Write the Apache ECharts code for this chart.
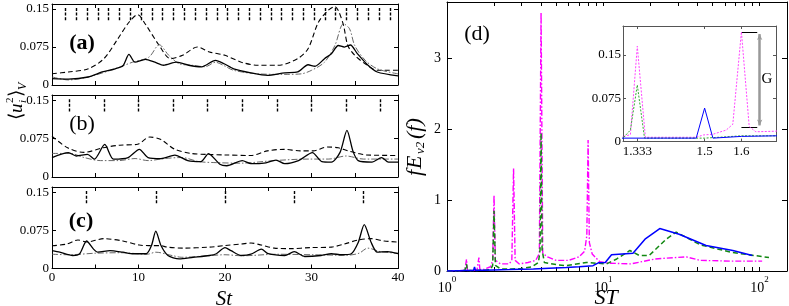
<!DOCTYPE html>
<html><head><meta charset="utf-8">
<script src="https://cdn.jsdelivr.net/npm/echarts@6/dist/echarts.min.js"></script>
<style>html,body{margin:0;padding:0;background:#fff}#c{width:789px;height:306px}</style>
</head><body><div id="c"></div>
<script>
// ---------- data: left panels (St vs <u_i^2>_V) ----------
const aSolidSt = [0,1.9,4.2,5.8,7.3,8.2,8.9,9.6,10.8,11.9,12.9,14.4,15.8,17.3,18.9,19.9,21,23,24.9,26.9,28.4,29.6,30.4,31.5,32.3,33.1,33.8,34.5,35.3,36.5,37.6,40];
const aSolidV  = [0.0125,0.0116,0.0158,0.0257,0.032,0.038,0.0605,0.045,0.0507,0.045,0.039,0.045,0.039,0.036,0.0487,0.042,0.032,0.024,0.019,0.024,0.0257,0.040,0.037,0.052,0.0618,0.078,0.075,0.079,0.062,0.0395,0.0257,0.018];
const aDashSt  = [0,1.9,4.2,6,7.6,8.9,9.9,10.8,12.4,13.7,15.1,16.8,18.2,20,21.9,23.8,26.1,28.4,29.6,30.8,31.9,32.7,33.1,33.7,34.2,35,36.2,37.6,40];
const aDashV   = [0.0223,0.0257,0.032,0.052,0.091,0.124,0.139,0.12,0.078,0.052,0.0586,0.075,0.0652,0.0586,0.045,0.039,0.039,0.052,0.0717,0.124,0.147,0.155,0.147,0.118,0.078,0.0586,0.042,0.029,0.029];
const aDotSt   = [0,1.9,4.2,7.3,9.3,11.2,12.4,13.5,14.7,16.2,17.7,18.9,19.8,21,23.8,26.9,28.8,30,31.5,32.7,33.7,34.4,35,36.2,37.6,40];
const aDotV    = [0.016,0.01,0.016,0.032,0.045,0.055,0.0795,0.0586,0.042,0.039,0.036,0.045,0.039,0.029,0.022,0.021,0.022,0.029,0.045,0.078,0.121,0.111,0.078,0.049,0.032,0.022];

const bSolidSt = [0,1.9,2.8,4.1,4.9,6.1,7.1,8.8,10.1,11.1,12.6,14.2,15.7,17.2,18.1,19.4,20.2,22,23,24.5,25.9,26.9,28.5,30.1,31.2,32.3,33.3,34.1,34.8,35.4,37,38.1,38.9,40];
const bSolidV  = [0.038,0.0477,0.041,0.044,0.035,0.0636,0.035,0.038,0.054,0.038,0.036,0.0426,0.032,0.030,0.0458,0.025,0.022,0.032,0.026,0.027,0.033,0.026,0.032,0.0477,0.03,0.029,0.048,0.091,0.05,0.032,0.029,0.038,0.029,0.029];
const bDashSt  = [0,1.8,3.7,5.9,7.8,9.9,11.3,12.6,14.2,16.1,18,20,23,24.9,26.8,28.7,30.2,31.8,33.1,34.2,35.4,36.3,40];
const bDashV   = [0.0795,0.057,0.048,0.057,0.062,0.064,0.078,0.073,0.054,0.046,0.044,0.043,0.042,0.051,0.054,0.051,0.051,0.0585,0.057,0.051,0.046,0.043,0.042];
const bDotSt   = [0,2.1,3.7,5.6,7.7,9.6,11.1,13,15,17,19,21.8,25.7,29.6,32,34,36,40];
const bDotV    = [0.046,0.046,0.038,0.032,0.032,0.036,0.032,0.036,0.038,0.03,0.028,0.027,0.032,0.035,0.035,0.041,0.035,0.035];

const cSolidSt = [0,0.9,2.4,3.2,4,4.8,5.3,6.7,8.2,9.4,10.9,11.5,12,12.6,13.4,14.7,16.3,18.2,19,20,20.7,21.9,23,24.2,25,26.9,28,29.2,31.1,32.3,33.5,34.6,35.4,36.1,36.9,37.6,38.8,40];
const cSolidV  = [0.035,0.032,0.0255,0.029,0.054,0.038,0.032,0.035,0.032,0.029,0.029,0.045,0.0734,0.045,0.0255,0.019,0.022,0.0255,0.029,0.041,0.035,0.0255,0.028,0.038,0.029,0.0255,0.033,0.0236,0.0255,0.029,0.027,0.029,0.051,0.086,0.051,0.032,0.033,0.029];
const cDashSt  = [0,1.7,3,4,6,8.2,10.1,11.2,12.5,13.3,15.2,18.2,20,21.9,23,24.2,25.7,27.6,29.9,32.3,33.8,35.4,36.9,38.4,40];
const cDashV   = [0.0446,0.048,0.056,0.052,0.0586,0.054,0.046,0.045,0.045,0.042,0.04,0.042,0.045,0.048,0.05,0.046,0.04,0.039,0.041,0.042,0.048,0.056,0.0586,0.054,0.052];
const cDotSt   = [0,2,5,8,11,12,14,15,18,20,22,26,30,34,35.5,36.5,38,40];
const cDotV    = [0.028,0.027,0.03,0.031,0.028,0.032,0.025,0.022,0.025,0.027,0.025,0.028,0.027,0.026,0.03,0.04,0.033,0.03];

// vertical marker positions (St) in each panel
const marksA = [1.55,2.8,4.05,5.3,6.55,7.8,9.05,10.3,11.55,12.8,14.05,15.3,16.55,17.8,19.05,20.3,21.55,22.8,24.05,25.3,26.55,27.8,29.05,30.3,31.55,32.8,34.05,35.3,36.55,37.8,39.05];
const marksB = [2,6,10,14,18,22,26,30,34,38];
const marksC = [4,12,20,28,36];
const markSpan = [0.128, 0.152];

// ---------- data: spectrum panel (d) ----------
const dBlueF  = [1.0,1.2,1.3,1.4,1.478,1.5,1.522,1.6,1.7,2.0,2.5,3.0,3.57,4.5,5.8,7.0,8.6,9.3,10.3,11.3,15.5,18.5,23,30.6,45.5,67.5,90];
const dBlueV  = [0.0,0.004,0.006,0.006,0.006,0.058,0.006,0.009,0.01,0.015,0.02,0.025,0.03,0.04,0.05,0.06,0.075,0.115,0.12,0.23,0.25,0.45,0.60,0.52,0.36,0.29,0.22];
const dGreenF = [1.0,1.2,1.3,1.317,1.333,1.35,1.4,1.5,1.55,1.6,1.7,1.9,1.96,2.0,2.04,2.2,2.6,3.0,3.5,3.85,3.94,4.0,4.06,4.2,5.0,5.8,7.8,10.5,12.2,14.8,17,19.7,25.3,29.3,41.7,67.5,115];
const dGreenV = [0.0,0.004,0.006,0.02,0.098,0.006,0.006,0.006,0.008,0.01,0.01,0.02,0.08,0.85,0.08,0.03,0.03,0.035,0.06,0.12,0.3,1.95,0.3,0.12,0.09,0.075,0.12,0.1,0.17,0.29,0.22,0.22,0.45,0.55,0.37,0.26,0.19];
const dMagF   = [1.0,1.2,1.3,1.317,1.333,1.352,1.4,1.478,1.497,1.522,1.558,1.576,1.6,1.622,1.641,1.7,1.9,1.96,2.0,2.04,2.2,2.5,2.6,2.667,2.73,2.9,3.3,3.7,3.9,4.0,4.1,4.4,5.0,6.0,7.0,7.6,7.85,8.0,8.15,8.5,9.5,11,15,21.5,34,41.7,65,104];
const dMagV   = [0.0,0.004,0.0087,0.012,0.165,0.0075,0.0075,0.0075,0.0115,0.0127,0.02,0.03,0.19,0.026,0.017,0.018,0.06,0.15,1.07,0.15,0.1,0.1,0.15,1.45,0.15,0.1,0.12,0.15,0.25,3.65,0.25,0.2,0.15,0.15,0.2,0.28,0.5,1.85,0.4,0.24,0.13,0.11,0.1,0.17,0.2,0.15,0.14,0.14];

// tick labels
const leftYTicks = [0, 0.075, 0.15];
const leftYLabels = ['0', '0.075', '0.15'];
const dXLabelValues = [1, 10, 100];
const dXMinorTicks = [1,2,3,4,5,6,7,8,9,10,20,30,40,50,60,70,80,90,100];
const insetXTicks = [1.333, 1.5, 1.6];
const insetXLabels = ['1.333', '1.5', '1.6'];
const insetYTicks = [0, 0.075, 0.15];
const insetYLabels = ['0', '0.075', '0.15'];
// G annotation (inset coordinates)
const gF = [1.6, 1.645, 1.652];
const gV = [0.19, 0.025];

// ---------- build ----------
const FONT = '"Liberation Serif","Times New Roman",serif';
const zip = (xs, ys) => xs.map((x, i) => [x, ys[i]]);
const lab = (ticks, labels) => v => { for (let i = 0; i < ticks.length; i++) if (Math.abs(v - ticks[i]) < 1e-6) return labels[i]; return ''; };

const grids = [
  {left:52, top:4, width:346, height:81},
  {left:52, top:95, width:346, height:82},
  {left:52, top:187, width:346, height:81.5},
  {left:447, top:2, width:340, height:269},
  {left:623, top:26, width:153, height:115.6, show:true, backgroundColor:'#fff', borderWidth:0, z:5}
].map(g => Object.assign({outerBoundsMode:'none', containLabel:false}, g));

const axLine = c => ({show:true, onZero:false, lineStyle:{color:c||'#000', width:1}});
const labStyle = {fontFamily:FONT, fontSize:13, color:'#000'};

const xAxes = [], yAxes = [];
for (let g = 0; g < 3; g++) {
  ['bottom','top'].forEach(pos => xAxes.push({
    type:'value', gridIndex:g, position:pos, min:0, max:40, interval:5,
    axisLine:axLine(), axisTick:{show:true, inside:true, length:4, lineStyle:{color:'#000'}},
    axisLabel:Object.assign({show: g===2 && pos==='bottom', margin:3, formatter: v => (v % 10 === 0 ? String(v) : '')}, labStyle),
    splitLine:{show:false}
  }));
  ['left','right'].forEach(pos => yAxes.push({
    type:'value', gridIndex:g, position:pos, min:0, max:0.16, interval:0.075,
    axisLine:axLine(), axisTick:{show:true, inside:true, length:4, lineStyle:{color:'#000'}},
    axisLabel:Object.assign({show: pos==='left', margin:3, showMaxLabel:false, formatter: lab(leftYTicks, leftYLabels)}, labStyle),
    splitLine:{show:false}
  }));
}
// panel d
const supRich = {b:{fontFamily:FONT, fontSize:14, color:'#000', lineHeight:20, verticalAlign:'bottom'},
                 s:{fontFamily:FONT, fontSize:9, color:'#000', lineHeight:10, verticalAlign:'top'}};
['bottom','top'].forEach(pos => xAxes.push({
  type:'log', logBase:10, gridIndex:3, position:pos, min:1, max:150,
  axisLine:axLine(), axisTick:{show:true, inside:true, length:4, customValues:dXMinorTicks, lineStyle:{color:'#000'}},
  axisLabel:{show: pos==='bottom', margin:4, customValues:dXLabelValues,
    formatter: v => '{b|10}{s|' + Math.round(Math.log10(v)) + '}', rich:supRich},
  splitLine:{show:false}, minorTick:{show:false}
}));
['left','right'].forEach(pos => yAxes.push({
  type:'value', gridIndex:3, position:pos, min:0, max:3.8, interval:1,
  axisLine:axLine(), axisTick:{show:true, inside:true, length:5, lineStyle:{color:'#000'}},
  axisLabel:Object.assign({show: pos==='left', margin:6, showMaxLabel:false, fontSize:14}, {fontFamily:FONT, color:'#000'}),
  splitLine:{show:false}
}));
// inset
['bottom','top'].forEach(pos => xAxes.push({
  type:'log', logBase:10, gridIndex:4, position:pos, min:1.3, max:1.7,
  axisLine:axLine('#555'), axisTick:{show:true, inside:true, length:3, customValues:insetXTicks, lineStyle:{color:'#555'}},
  axisLabel:Object.assign({show: pos==='bottom', margin:3, customValues:insetXTicks, formatter: lab(insetXTicks, insetXLabels)}, labStyle),
  splitLine:{show:false}, z:6
}));
['left','right'].forEach(pos => yAxes.push({
  type:'value', gridIndex:4, position:pos, min:0, max:0.2, interval:0.075,
  axisLine:axLine('#555'), axisTick:{show:true, inside:true, length:3, lineStyle:{color:'#555'}},
  axisLabel:Object.assign({show: pos==='left', margin:2, showMaxLabel:false, formatter: lab(insetYTicks, insetYLabels)}, labStyle),
  splitLine:{show:false}, z:6
}));

const SOLID = 'solid', DASH = [5,3], DASHDOT = [6,2,1.5,2];
function line(data, xi, yi, color, width, type, smooth, extra) {
  return Object.assign({type:'line', xAxisIndex:xi, yAxisIndex:yi, data:data, showSymbol:false, symbol:'none',
    smooth:smooth, animation:false, silent:true,
    lineStyle:{color:color, width:width, type:type}}, extra || {});
}
function markers(pos) {
  return {markLine:{silent:true, animation:false, symbol:['none','none'], label:{show:false},
    lineStyle:{color:'#000', width:1.4, type:[3,1.6]},
    data: pos.map(p => [{coord:[p, markSpan[0]]}, {coord:[p, markSpan[1]]}])}};
}

const series = [
  line(zip(aDashSt, aDashV), 0, 0, '#000', 1.1, DASH, 0.3),
  line(zip(aDotSt, aDotV), 0, 0, '#555', 0.9, DASHDOT, 0.3),
  line(zip(aSolidSt, aSolidV), 0, 0, '#000', 1.3, SOLID, 0.25, markers(marksA)),
  line(zip(bDashSt, bDashV), 2, 2, '#000', 1.1, DASH, 0.3),
  line(zip(bDotSt, bDotV), 2, 2, '#555', 0.9, DASHDOT, 0.3),
  line(zip(bSolidSt, bSolidV), 2, 2, '#000', 1.3, SOLID, 0.25, markers(marksB)),
  line(zip(cDashSt, cDashV), 4, 4, '#000', 1.1, DASH, 0.3),
  line(zip(cDotSt, cDotV), 4, 4, '#555', 0.9, DASHDOT, 0.3),
  line(zip(cSolidSt, cSolidV), 4, 4, '#000', 1.3, SOLID, 0.25, markers(marksC)),
  // main spectrum
  line(zip(dMagF, dMagV), 6, 6, '#ff00ff', 1.4, DASHDOT, false),
  line(zip(dGreenF, dGreenV), 6, 6, '#118811', 1.5, DASH, false),
  line(zip(dBlueF, dBlueV), 6, 6, '#0000ff', 1.5, SOLID, false),
  // inset
  line(zip(dMagF, dMagV), 8, 8, '#ff44ff', 1, [2,1.5], false, {z:7, markLine:{silent:true, animation:false,
    symbol:['none','none'], label:{show:false}, lineStyle:{color:'#000', width:1, type:'solid'},
    data:[
      [{coord:[gF[0], gV[0]]}, {coord:[gF[1], gV[0]]}],
      [{coord:[gF[0], gV[1]]}, {coord:[gF[1], gV[1]]}],
      [{coord:[gF[2], gV[0]-0.004], symbol:'arrow', symbolSize:[4,6], lineStyle:{color:'#999', width:2.5, type:'solid'}},
       {coord:[gF[2], gV[1]+0.003], symbol:'arrow', symbolSize:[4,6]}]
    ]}}),
  line(zip(dGreenF, dGreenV), 8, 8, '#33aa33', 1, [2,1.5], false, {z:7}),
  line(zip(dBlueF, dBlueV), 8, 8, '#0000ff', 1, SOLID, false, {z:7})
];

function txt(text, x, y, font, extra) {
  return Object.assign({type:'text', x:x, y:y, silent:true, z:20,
    style:{text:text, font:font, fill:'#000', align:'center', verticalAlign:'middle'}}, extra || {});
}
const I = s => 'italic ' + s + 'px ' + FONT;
const N = s => s + 'px ' + FONT;
const graphic = [
  txt('(a)', 82, 43, 'bold 22px ' + FONT),
  txt('(b)', 82, 124, N(22)),
  txt('(c)', 81, 221, 'bold 22px ' + FONT),
  txt('(d)', 477, 34, N(22)),
  txt('G', 767, 79, N(15)),
  txt('St', 224, 299, I(21)),
  txt('ST', 606, 298, I(22)),
  {type:'group', x:17, y:120, rotation:Math.PI/2, silent:true, z:20, children:[
    {type:'text', style:{text:'\u27E8', x:0, y:0, font:N(19), fill:'#000', verticalAlign:'middle'}},
    {type:'text', style:{text:'u', x:7, y:0, font:I(19), fill:'#000', verticalAlign:'middle'}},
    {type:'text', style:{text:'2', x:17, y:-7, font:N(11), fill:'#000', verticalAlign:'middle'}},
    {type:'text', style:{text:'i', x:17, y:6, font:I(11), fill:'#000', verticalAlign:'middle'}},
    {type:'text', style:{text:'\u27E9', x:23, y:0, font:N(19), fill:'#000', verticalAlign:'middle'}},
    {type:'text', style:{text:'V', x:30, y:6, font:I(12), fill:'#000', verticalAlign:'middle'}}
  ]},
  {type:'group', x:415, y:176, rotation:Math.PI/2, silent:true, z:20, children:[
    {type:'text', style:{text:'f', x:0, y:0, font:I(22), fill:'#000', verticalAlign:'middle'}},
    {type:'text', style:{text:'E', x:7, y:0, font:I(22), fill:'#000', verticalAlign:'middle'}},
    {type:'text', style:{text:'v2', x:22, y:6, font:I(13), fill:'#000', verticalAlign:'middle'}},
    {type:'text', style:{text:'(f)', x:37, y:0, font:I(22), fill:'#000', verticalAlign:'middle'}}
  ]}
];

const chart = echarts.init(document.getElementById('c'), null, {renderer:'canvas'});
chart.setOption({
  animation:false, backgroundColor:'#fff',
  textStyle:{fontFamily:FONT},
  grid:grids, xAxis:xAxes, yAxis:yAxes, series:series, graphic:graphic
});
</script>
</body></html>
